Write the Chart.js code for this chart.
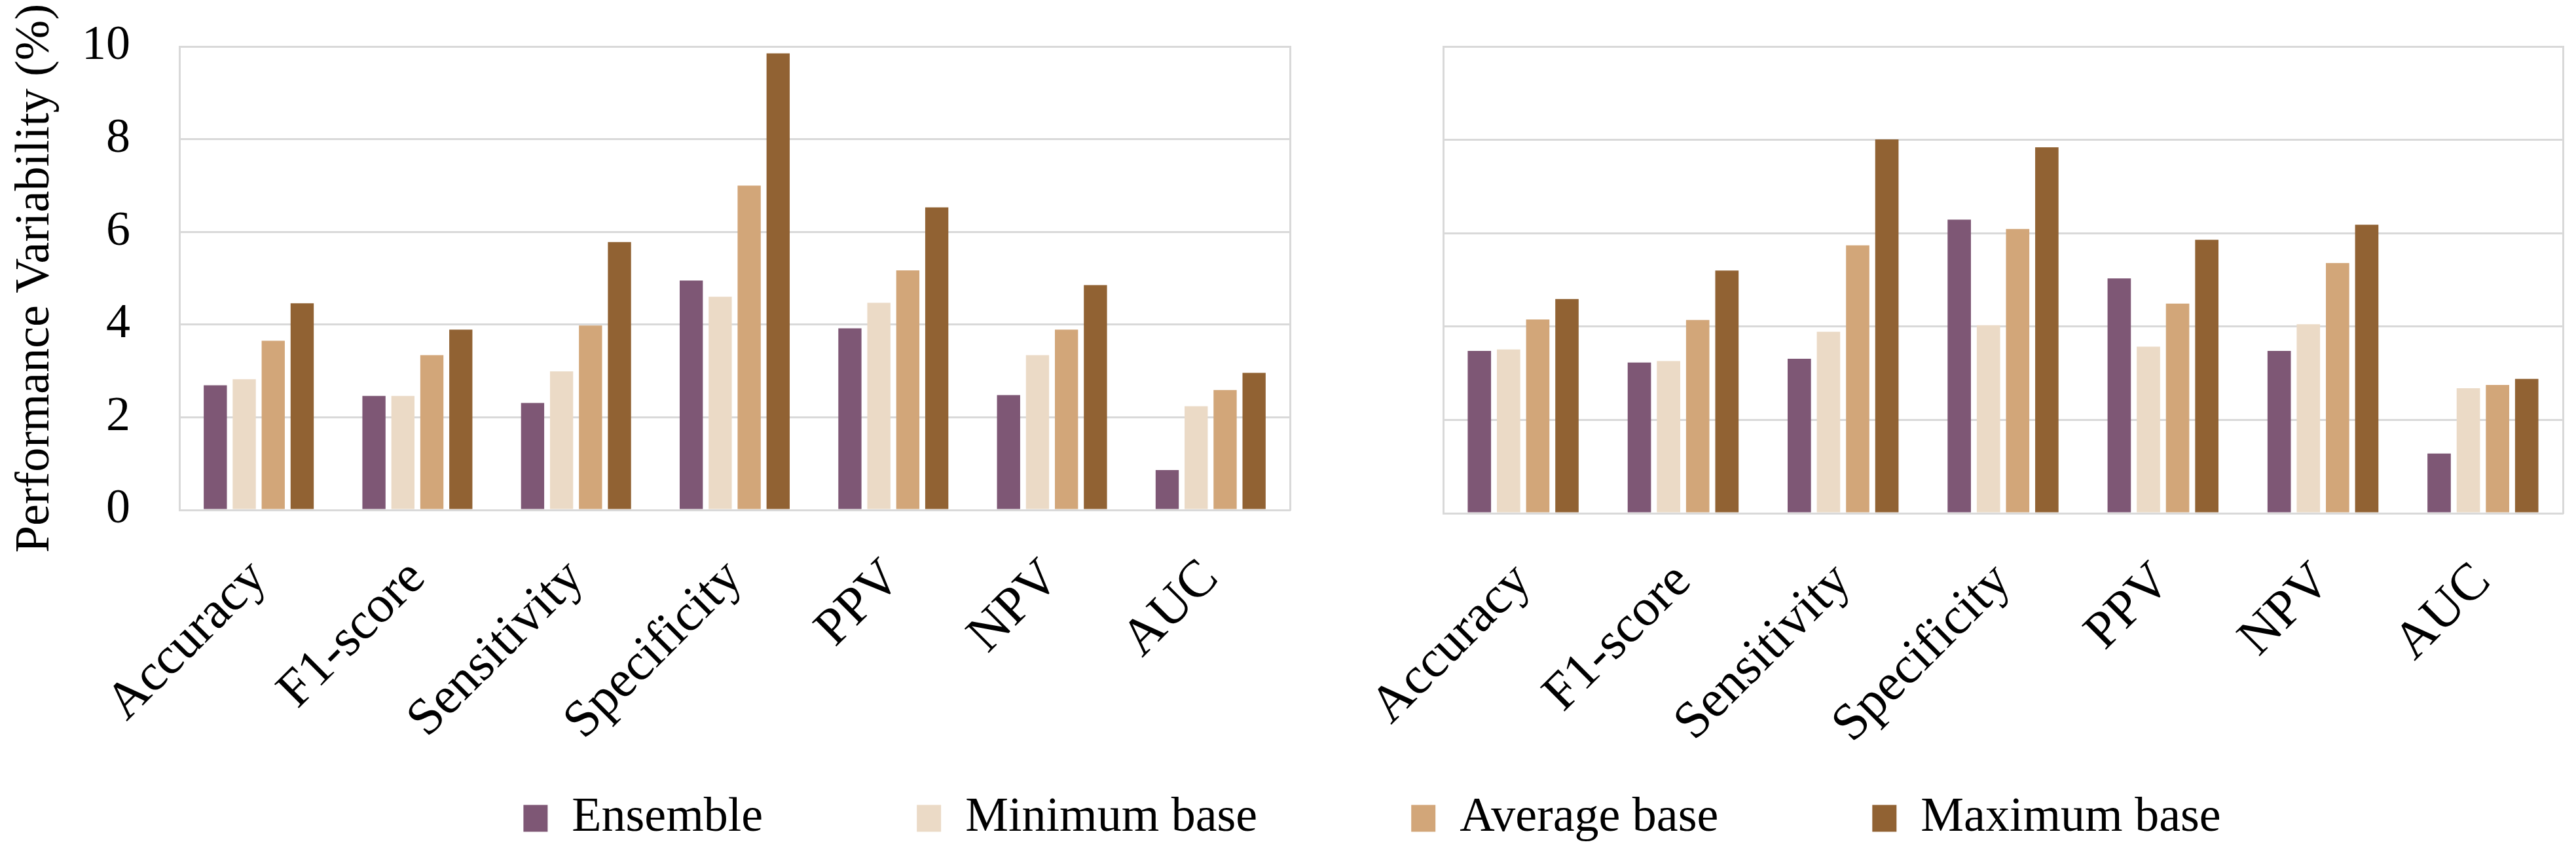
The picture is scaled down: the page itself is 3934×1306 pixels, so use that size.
<!DOCTYPE html>
<html lang="en">
<head>
  <meta charset="UTF-8" />
  <title>Performance Variability</title>
  <style>
    body {
      margin: 0;
      background: #fff;
      width: 3934px;
      height: 1306px;
      position: relative;
      overflow: hidden;
    }
    canvas {
      position: absolute;
      display: block;
    }
    #leftChart { left: 0; top: 0; }
    #rightChart { left: 2100px; top: 0; }
    #legendChart { left: 0; top: 978px; }
  </style>
</head>
<body>
  <canvas id="leftChart" width="2000" height="1306"></canvas>
  <canvas id="rightChart" width="1834" height="1306"></canvas>
  <canvas id="legendChart" width="3934" height="1300"></canvas>

  <script src="https://cdn.jsdelivr.net/npm/chart.js"></script>
  <script>
    const categories = ['Accuracy', 'F1-score', 'Sensitivity', 'Specificity', 'PPV', 'NPV', 'AUC'];
    const seriesNames = ['Ensemble', 'Minimum base', 'Average base', 'Maximum base'];
    const yTicks = [0, 2, 4, 6, 8, 10];

    // left panel
    const leftEnsemble = [2.69, 2.46, 2.31, 4.95, 3.92, 2.48, 0.86];
    const leftMinBase  = [2.82, 2.46, 2.99, 4.60, 4.47, 3.34, 2.24];
    const leftAvgBase  = [3.65, 3.34, 3.98, 7.00, 5.17, 3.89, 2.59];
    const leftMaxBase  = [4.46, 3.89, 5.78, 9.85, 6.53, 4.85, 2.96];

    // right panel
    const rightEnsemble = [3.48, 3.23, 3.31, 6.29, 5.03, 3.48, 1.28];
    const rightMinBase  = [3.51, 3.26, 3.89, 4.03, 3.57, 4.05, 2.68];
    const rightAvgBase  = [4.15, 4.14, 5.74, 6.09, 4.49, 5.36, 2.75];
    const rightMaxBase  = [4.59, 5.20, 8.01, 7.84, 5.86, 6.18, 2.88];

    const colors = ['#7E5775', '#EBDAC6', '#D2A679', '#916233'];
    const gridColor = '#D9D9D9';
    const fontFamily = "'Liberation Serif', 'Times New Roman', serif";

    Chart.defaults.font.family = fontFamily;
    Chart.defaults.color = '#000';

    function makeDatasets(lists) {
      return lists.map((d, i) => ({
        label: seriesNames[i],
        data: d,
        backgroundColor: colors[i],
        borderWidth: 0,
        categoryPercentage: 0.73,
        barPercentage: 0.8
      }));
    }

    // fixes axis size so the plot area lands where the reference has it
    function fixSize(w, h) {
      return (axis) => {
        if (w !== null) axis.width = w;
        if (h !== null) axis.height = h;
        axis.paddingLeft = 0;
        axis.paddingRight = 0;
        axis.paddingTop = 0;
        axis.paddingBottom = 0;
      };
    }

    function makePanel(id, lists, showY, yWidth, xHeight, padding) {
      return new Chart(document.getElementById(id), {
        type: 'bar',
        data: { labels: categories, datasets: makeDatasets(lists) },
        options: {
          responsive: false,
          devicePixelRatio: 1,
          animation: false,
          layout: { padding: padding },
          plugins: { legend: { display: false }, tooltip: { enabled: false } },
          scales: {
            x: {
              afterFit: fixSize(null, xHeight),
              grid: { display: false },
              border: { display: true, color: gridColor, width: 3 },
              ticks: {
                autoSkip: false,
                minRotation: 45,
                maxRotation: 45,
                padding: 50,
                font: { size: 80 }
              }
            },
            y: {
              min: 0,
              max: 10,
              afterBuildTicks: (axis) => { axis.ticks = yTicks.map(v => ({ value: v })); },
              afterFit: fixSize(yWidth, null),
              grid: { color: gridColor, lineWidth: 3, drawTicks: false },
              border: { display: true, color: gridColor, width: 3 },
              ticks: { display: showY, padding: 75, font: { size: 74 } },
              title: {
                display: showY,
                text: 'Performance Variability (%)',
                font: { size: 74 },
                padding: { top: 0, bottom: 0 }
              }
            },
            y2: {
              position: 'right',
              min: 0,
              max: 10,
              afterFit: fixSize(0, null),
              grid: { display: false, drawTicks: false },
              border: { display: true, color: gridColor, width: 3 },
              ticks: { display: false }
            }
          }
        }
      });
    }

    makePanel('leftChart', [leftEnsemble, leftMinBase, leftAvgBase, leftMaxBase], true, 264, 527,
      { left: 10, right: 30, top: 71, bottom: 0 });
    makePanel('rightChart', [rightEnsemble, rightMinBase, rightAvgBase, rightMaxBase], false, 0, 522,
      { left: 104, right: 20, top: 71, bottom: 0 });

    // shared legend under both panels
    new Chart(document.getElementById('legendChart'), {
      type: 'bar',
      data: {
        labels: [],
        datasets: seriesNames.map((n, i) => ({ label: n, data: [], backgroundColor: colors[i] }))
      },
      options: {
        responsive: false,
        devicePixelRatio: 1,
        animation: false,
        layout: { padding: { left: 257, right: 0, top: 0, bottom: 0 } },
        scales: { x: { display: false }, y: { display: false } },
        plugins: {
          tooltip: { enabled: false },
          legend: {
            position: 'top',
            labels: {
              boxWidth: 37,
              boxHeight: 41,
              padding: 235,
              font: { size: 74 },
              color: '#000'
            }
          }
        }
      }
    });
  </script>
</body>
</html>
